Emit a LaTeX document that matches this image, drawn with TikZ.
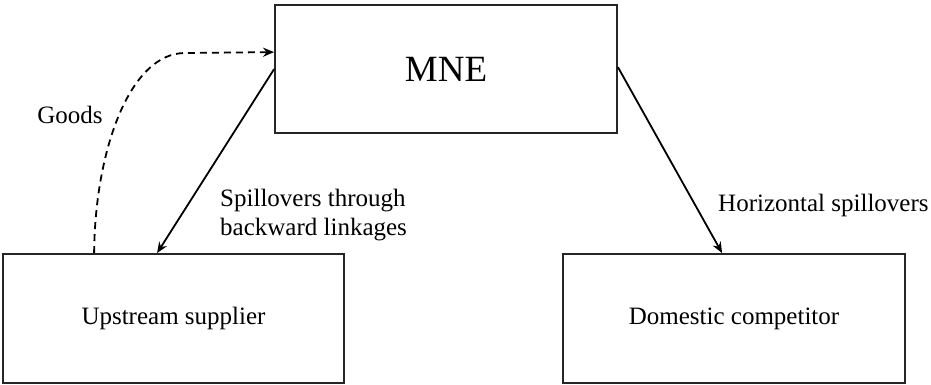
\documentclass[tikz,border=0pt]{standalone}
\usepackage{fontspec}
\setmainfont{Liberation Serif}
\usetikzlibrary{arrows.meta}
\begin{document}
\begin{tikzpicture}[x=1pt,y=-1pt,
  box/.style={draw=black!85,line width=1.8pt,inner sep=0pt,minimum width=342pt,minimum height=129pt,font=\fontsize{25}{30}\selectfont},
  lbl/.style={inner sep=0pt,font=\fontsize{25}{29}\selectfont},
  arr/.style={line width=1.8pt,-{Stealth[length=11pt,width=9pt]}}]
\useasboundingbox (0,0) rectangle (931,385);
\node[box,font=\fontsize{37}{44}\selectfont,minimum height=128pt] (mne) at (446,69) {MNE};
\node[box,minimum width=341pt] (up) at (173.5,318.5) {Upstream supplier};
\node[box] (dom) at (734,318.5) {Domestic competitor};
\draw[arr] ([yshift=-65pt]mne.north west) -- ([xshift=155pt]up.north west);
\draw[arr] ([yshift=-63pt]mne.north east) -- ([xshift=160pt]dom.north west);
\draw[arr,dash pattern=on 7pt off 5pt] ([xshift=92pt]up.north west) .. controls (95,150) and (130,53) .. (185,53) -- ([yshift=-48pt]mne.north west);
\node[lbl] (goods) at (70,115) {Goods};
\node[lbl,anchor=west,align=left] (spill) at (220,215) {Spillovers through\\backward linkages};
\node[lbl,anchor=west] (horiz) at (718,205) {Horizontal spillovers};
\end{tikzpicture}
\end{document}
